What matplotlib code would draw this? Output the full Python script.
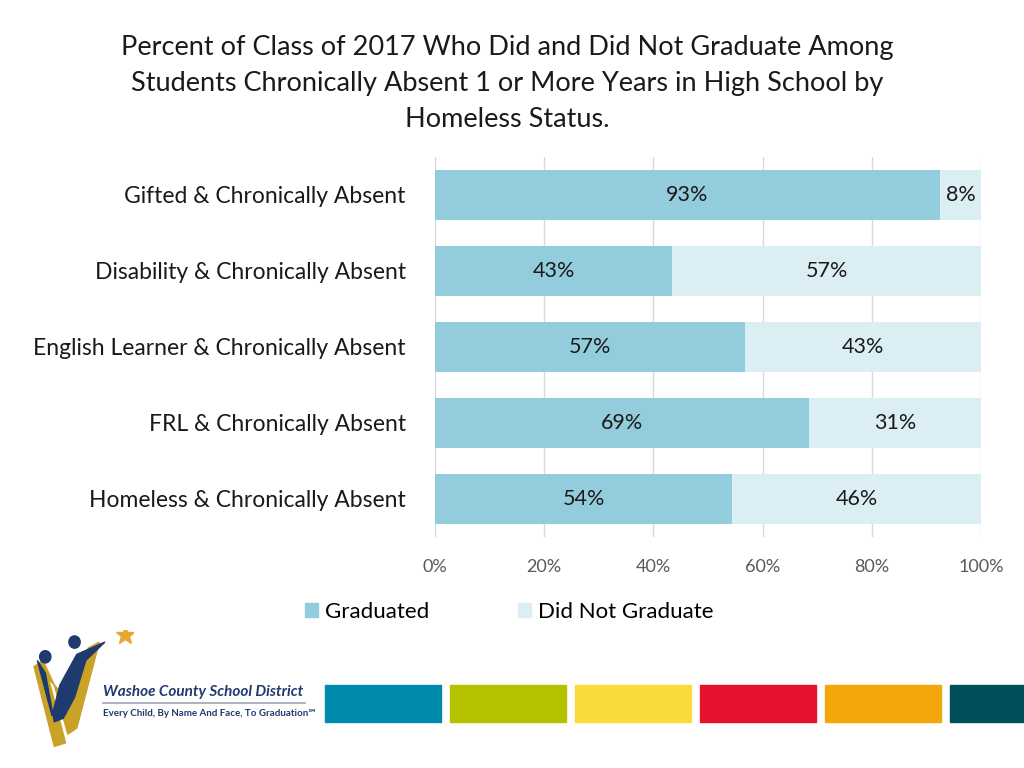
import matplotlib.pyplot as plt
import matplotlib.patches as mpatches
import numpy as np

plt.rcParams['font.family'] = ['Lato', 'DejaVu Sans']

categories = ['Gifted & Chronically Absent', 'Disability & Chronically Absent',
              'English Learner & Chronically Absent', 'FRL & Chronically Absent',
              'Homeless & Chronically Absent']
graduated = [92.5, 43.4, 56.8, 68.5, 54.4]
not_graduated = [7.5, 56.6, 43.2, 31.5, 45.6]
grad_labels = ['93%', '43%', '57%', '69%', '54%']
not_labels = ['8%', '57%', '43%', '31%', '46%']
ticks = [0, 20, 40, 60, 80, 100]
title = ('Percent of Class of 2017 Who Did and Did Not Graduate Among\n'
         'Students Chronically Absent 1 or More Years in High School by\n'
         'Homeless Status.')
band_colors = ['#008AAD', '#B5C200', '#F9DC3A', '#E8112D', '#F4A70A', '#00505C']

C_GRAD = '#93CDDD'
C_NOT = '#DBEEF4'

fig = plt.figure(figsize=(10.24, 7.68), dpi=100)
ax = fig.add_axes([0.4248, 0.3008, 0.5332, 0.4948])

y = np.arange(len(categories))
ax.barh(y, graduated, height=0.66, color=C_GRAD, label='Graduated', zorder=2)
ax.barh(y, not_graduated, left=graduated, height=0.66, color=C_NOT,
        label='Did Not Graduate', zorder=2)

for i in range(len(categories)):
    ax.text(graduated[i] / 2, y[i], grad_labels[i], ha='center', va='center',
            fontsize=15.5, color='#1a1a1a', zorder=3)
    ax.text(graduated[i] + not_graduated[i] / 2, y[i], not_labels[i],
            ha='center', va='center', fontsize=15.5, color='#1a1a1a', zorder=3)

ax.set_xlim(0, 100)
ax.set_ylim(len(categories) - 0.5, -0.5)
ax.set_xticks(ticks)
ax.set_xticklabels([f'{t}%' for t in ticks], fontsize=13, color='#595959')
ax.set_yticks(y)
ax.set_yticklabels(categories, fontsize=16.5, color='#1a1a1a')
ax.tick_params(axis='both', length=0)
ax.tick_params(axis='x', pad=16)
ax.tick_params(axis='y', pad=21)
ax.grid(axis='x', color='#D9D9D9', linewidth=1, zorder=0)
for s in ax.spines.values():
    s.set_visible(False)

fig.text(0.495, 0.955, title, ha='center', va='top', fontsize=19.5,
         color='#1a1a1a', linespacing=1.55)

handles = [mpatches.Patch(color=C_GRAD), mpatches.Patch(color=C_NOT)]
fig.legend(handles, ['Graduated', 'Did Not Graduate'], loc='center',
           bbox_to_anchor=(0.497, 0.203), ncol=2, frameon=False, fontsize=16,
           handlelength=0.6, handleheight=0.6, handletextpad=0.3,
           columnspacing=4.0)

# colour band at the bottom
band_x = [325, 450, 575, 700, 825, 950]
for bx, bc in zip(band_x, band_colors):
    fig.patches.append(mpatches.Rectangle((bx / 1024, 1 - 722 / 768), 116 / 1024,
                                          37 / 768, color=bc,
                                          transform=fig.transFigure))

# logo (rough)
lx = fig.add_axes([0.02, 0.02, 0.11, 0.16])
lx.set_xlim(0, 100)
lx.set_ylim(0, 100)
lx.axis('off')
lx.add_patch(mpatches.Polygon([[12, 70], [30, 5], [40, 8], [25, 60], [45, 40], [60, 85],
                               [70, 90], [50, 20], [42, 15], [30, 55], [20, 75]],
                              closed=True, color='#C9A227'))
lx.add_patch(mpatches.Polygon([[15, 75], [28, 30], [35, 55], [50, 80], [75, 90], [58, 75],
                               [48, 45], [38, 28], [30, 25], [22, 65]],
                              closed=True, color='#1F3A6E'))
lx.add_patch(mpatches.Circle((22, 78), 5, color='#1F3A6E'))
lx.add_patch(mpatches.Circle((48, 90), 5, color='#1F3A6E'))
lx.plot([93], [96], marker='*', markersize=14, color='#E8A82B')

fig.text(103 / 1024, 1 - 692 / 768, 'Washoe County School District', fontsize=11,
         fontweight='bold', fontstyle='italic', color='#1F3A6E', va='center')
fig.add_artist(plt.Line2D([103 / 1024, 305 / 1024], [1 - 703 / 768, 1 - 703 / 768],
                          color='#9AA5B5', linewidth=1.2))
fig.text(103 / 1024, 1 - 714 / 768, 'Every Child, By Name And Face, To Graduation℠',
         fontsize=7, fontweight='bold', color='#1F3A6E', va='center')

fig.savefig('out.png', dpi=100)
